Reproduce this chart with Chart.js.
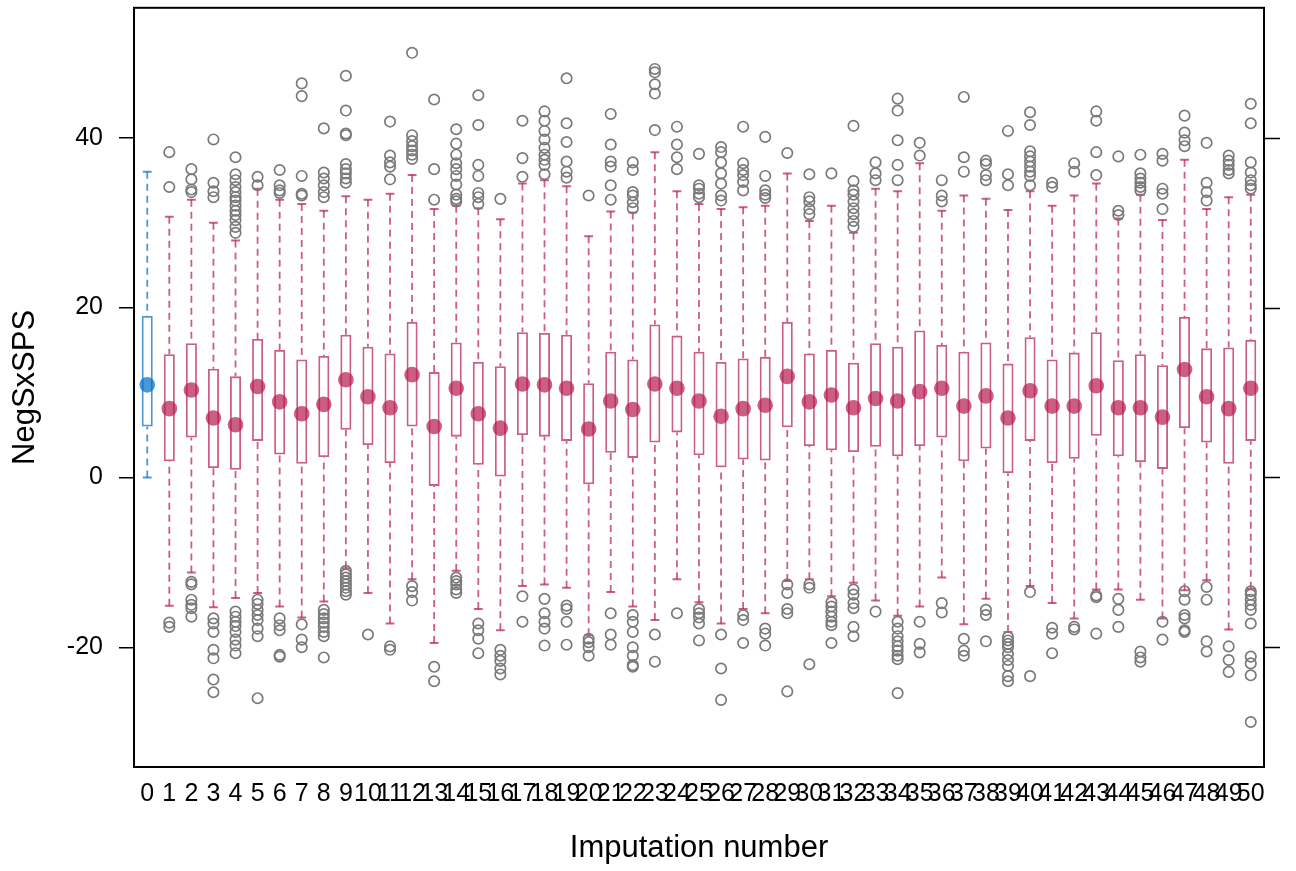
<!DOCTYPE html>
<html>
<head>
<meta charset="utf-8">
<script src="https://cdn.jsdelivr.net/npm/chart.js@4.4.1/dist/chart.umd.min.js"></script>
<style>
  html, body { margin: 0; padding: 0; background: #fff; }
</style>
</head>
<body>
<canvas id="chart" width="1296" height="871"></canvas>
<script>
// imputation numbers (0 = observed data)
var imputations = [];
for (var n = 0; n <= 50; n++) imputations.push(String(n));

var yTicks = [-20, 0, 20, 40];

// five-number summaries per imputation
var whiskerLow = [0, -15.1, -11.2, -15.3, -14.2, -13.6, -15.2, -16.5, -14.6, -10.7,
  -13.6, -17.2, -12.0, -19.5, -11.0, -15.5, -18.0, -12.8, -12.6, -13.0,
  -18.6, -13.5, -15.2, -16.8, -12.0, -14.7, -17.2, -15.5, -16.0, -12.2,
  -12.0, -14.0, -12.4, -14.5, -16.3, -15.2, -11.8, -17.3, -14.3, -18.2,
  -12.8, -14.8, -16.6, -13.2, -13.2, -14.4, -16.6, -13.3, -12.1, -17.9, -13.1];
var boxLow = [6.0, 1.9, 4.7, 1.1, 0.9, 4.3, 2.7, 1.6, 2.4, 5.6,
  3.8, 1.7, 6.0, -1.0, 4.8, 1.5, 0.1, 5.0, 4.8, 4.3,
  -0.8, 2.9, 2.3, 4.1, 5.3, 2.6, 1.2, 2.1, 2.0, 5.9,
  3.7, 3.2, 3.0, 3.6, 2.5, 3.7, 4.7, 1.9, 3.4, 0.5,
  4.3, 1.7, 2.2, 4.9, 2.5, 1.8, 1.0, 5.8, 4.1, 1.6, 4.3];
var medians = [10.9, 8.1, 10.3, 7.0, 6.2, 10.7, 8.9, 7.5, 8.6, 11.5,
  9.5, 8.2, 12.1, 6.0, 10.5, 7.5, 5.8, 11.0, 10.9, 10.5,
  5.7, 9.0, 8.0, 11.0, 10.5, 9.0, 7.2, 8.1, 8.5, 11.9,
  8.9, 9.7, 8.2, 9.3, 9.0, 10.1, 10.5, 8.4, 9.6, 7.0,
  10.2, 8.4, 8.4, 10.8, 8.2, 8.2, 7.1, 12.7, 9.5, 8.1, 10.5];
var boxHigh = [19.0, 14.5, 15.8, 12.8, 11.9, 16.3, 15.0, 13.9, 14.3, 16.8,
  15.4, 14.6, 18.3, 12.4, 15.9, 13.6, 13.1, 17.1, 17.0, 16.8,
  11.1, 14.8, 13.9, 18.0, 16.7, 14.8, 13.6, 14.0, 14.2, 18.3,
  14.6, 15.0, 13.5, 15.8, 15.4, 17.3, 15.6, 14.8, 15.9, 13.4,
  16.5, 13.9, 14.7, 17.1, 13.8, 14.5, 13.2, 18.9, 15.2, 15.3, 16.2];
var whiskerHigh = [36.0, 30.7, 32.7, 30.0, 27.9, 34.0, 32.7, 32.2, 31.4, 33.1,
  32.7, 33.4, 35.6, 31.6, 32.0, 31.7, 30.4, 34.6, 35.0, 34.3,
  28.4, 31.3, 31.2, 38.3, 33.7, 32.2, 31.6, 31.8, 32.0, 35.8,
  30.2, 32.0, 28.8, 34.0, 33.7, 37.0, 31.4, 33.2, 32.8, 31.5,
  33.7, 32.0, 33.2, 34.6, 30.5, 33.3, 30.3, 37.4, 31.6, 33.0, 33.3];

// values beyond the whiskers
var outliers = [
  [],
  [38.3, 34.2, -17.1, -17.6],
  [36.3, 35.1, 33.9, 33.6, -12.3, -12.6, -14.4, -15.0, -15.4, -16.4],
  [39.8, 34.7, 33.7, 33.0, -16.6, -17.2, -18.2, -20.3, -21.3, -23.8, -25.3],
  [37.7, 35.7, 35.0, 34.2, 33.6, 33.0, 32.6, 32.0, 31.4, 30.9, 30.3, 29.5, 28.8,
    -15.8, -16.4, -17.0, -17.5, -18.2, -19.1, -19.8, -20.7],
  [35.4, 34.4, -14.4, -14.9, -15.6, -16.2, -16.8, -17.8, -18.7, -26.0],
  [36.2, 34.4, 33.8, 33.5, -16.6, -17.4, -18.0, -20.9, -21.1],
  [46.4, 44.9, 35.5, 33.4, 33.2, -17.3, -19.1, -20.0],
  [41.1, 35.9, 35.2, 34.4, 33.6, 33.0, -15.6, -16.1, -16.6, -17.1, -17.6, -18.2, -18.7, -21.2],
  [47.3, 43.2, 40.5, 40.3, 36.9, 36.3, 35.8, 35.2, 34.7,
    -11.0, -11.4, -11.8, -12.2, -12.6, -13.0, -13.4, -13.8],
  [-18.5],
  [41.9, 37.9, 37.1, 36.6, 35.1, -19.9, -20.3],
  [50.0, 40.3, 39.6, 39.0, 38.5, 38.0, 37.5, -12.8, -13.5, -14.5],
  [44.5, 36.3, 32.7, -22.3, -24.0],
  [41.0, 39.3, 38.0, 37.0, 36.3, 35.5, 34.5, 33.3, 32.8, 32.5, -11.8, -12.2, -12.6, -13.2, -13.6],
  [45.0, 41.5, 36.8, 35.5, 33.5, 33.0, 32.2, -17.2, -18.0, -19.0, -20.7],
  [32.8, -20.3, -21.0, -21.6, -22.5, -23.2],
  [42.0, 37.6, 35.4, -14.0, -17.0],
  [43.1, 42.0, 40.8, 39.8, 38.8, 38.0, 37.4, 36.8, 35.7, -14.3, -16.0, -17.0, -17.8, -19.8],
  [47.0, 41.7, 39.5, 37.2, 36.0, 35.3, -15.1, -15.5, -17.0, -19.7],
  [33.2, -19.0, -19.4, -20.0, -21.0],
  [42.8, 39.2, 37.2, 36.6, 34.4, 32.7, -16.0, -18.5, -19.7],
  [37.1, 36.2, 33.6, 33.2, 32.4, 31.7, -16.2, -17.0, -18.2, -20.0, -21.0, -22.1, -22.3],
  [48.1, 47.7, 46.3, 45.2, 40.9, -18.5, -21.7],
  [41.3, 39.2, 37.7, 36.3, -16.0],
  [38.1, 34.4, 34.0, 33.4, 33.0, -15.5, -16.0, -16.5, -17.2, -19.2],
  [38.9, 38.3, 37.1, 35.8, 34.6, 33.2, 32.6, -18.5, -22.5, -26.2],
  [41.3, 37.0, 36.2, 35.6, 34.8, 33.8, -16.2, -16.8, -19.5],
  [40.1, 35.5, 33.8, 33.3, 32.9, -17.8, -18.4, -19.8],
  [38.2, -12.6, -13.6, -15.5, -16.0, -25.2],
  [35.7, 33.0, 32.5, 31.6, 31.0, -12.6, -13.0, -22.0],
  [35.8, -14.7, -15.2, -15.8, -16.4, -17.0, -17.4, -19.5],
  [41.4, 34.9, 33.8, 33.3, 32.5, 31.7, 31.0, 30.2, 29.5, -13.2, -13.8, -14.8, -15.4, -17.6, -18.7],
  [37.1, 35.8, 35.0, -15.8],
  [44.6, 43.2, 39.7, 36.8, 35.0, -17.0, -17.8, -18.7, -19.3, -19.9, -20.4, -21.0, -21.4, -25.4],
  [39.4, 37.9, -17.0, -19.6, -20.6],
  [35.0, 33.2, 32.5, -14.8, -15.9],
  [44.8, 37.7, 36.0, -19.0, -20.4, -21.0],
  [37.3, 36.9, 35.6, 35.0, -15.6, -16.2, -19.3],
  [40.8, 35.7, 34.4, -18.8, -19.2, -19.6, -20.0, -20.8, -21.5, -22.2, -23.4, -24.0],
  [43.0, 41.5, 38.4, 37.8, 37.2, 36.6, 36.0, 35.5, 34.4, -13.5, -23.4],
  [34.7, 34.2, -17.7, -18.4, -20.7],
  [37.0, 36.0, -17.6, -17.9],
  [43.1, 42.0, 38.3, 35.6, -13.9, -14.1, -18.4],
  [37.8, 31.4, 30.9, -14.3, -15.6, -17.6],
  [38.0, 35.8, 35.2, 34.7, 34.2, 33.8, -20.5, -21.2, -21.7],
  [38.1, 37.3, 34.0, 33.4, 31.6, -17.0, -19.1],
  [42.6, 40.6, 39.7, 39.0, -13.4, -14.4, -16.2, -16.6, -18.0, -18.2],
  [39.4, 34.7, 33.6, 32.6, -12.9, -14.4, -19.3, -20.5],
  [37.9, 37.3, 36.8, 36.2, 35.8, -19.9, -21.5, -22.9],
  [44.0, 41.7, 37.1, 35.9, 35.0, 34.4, 34.0, -13.4, -13.8, -14.4, -15.0, -15.6, -17.2,
    -21.1, -21.9, -23.3, -28.8]
];

var OBSERVED = 'rgba(0, 108, 194, 0.7)';
var IMPUTED = 'rgba(182, 26, 81, 0.7)';
var OUTLIER = '#7a7a7a';

function groupColor(i) {
  return i === 0 ? OBSERVED : IMPUTED;
}

// dashed whiskers with end caps, drawn under the boxes
var whiskers = {
  id: 'whiskers',
  beforeDatasetsDraw: function(chart) {
    var ctx = chart.ctx, x = chart.scales.x, y = chart.scales.y;
    ctx.save();
    imputations.forEach(function(lab, i) {
      var px = x.getPixelForValue(i);
      var cap = x.getPixelForValue(i + 0.2) - px;
      var hi = y.getPixelForValue(whiskerHigh[i]);
      var lo = y.getPixelForValue(whiskerLow[i]);
      ctx.strokeStyle = groupColor(i);
      ctx.lineWidth = 1.8;
      ctx.setLineDash([7, 5]);
      ctx.beginPath();
      ctx.moveTo(px, hi);
      ctx.lineTo(px, y.getPixelForValue(boxHigh[i]));
      ctx.moveTo(px, lo);
      ctx.lineTo(px, y.getPixelForValue(boxLow[i]));
      ctx.stroke();
      ctx.setLineDash([]);
      ctx.lineWidth = 2;
      ctx.beginPath();
      ctx.moveTo(px - cap, hi);
      ctx.lineTo(px + cap, hi);
      ctx.moveTo(px - cap, lo);
      ctx.lineTo(px + cap, lo);
      ctx.stroke();
    });
    ctx.restore();
  }
};

// closes the panel box and repeats the y ticks on the right side
var frame = {
  id: 'frame',
  afterDraw: function(chart) {
    var ctx = chart.ctx, a = chart.chartArea, y = chart.scales.y;
    ctx.save();
    ctx.strokeStyle = '#000';
    ctx.lineWidth = 2;
    ctx.strokeRect(a.left, a.top, a.right - a.left, a.bottom - a.top);
    ctx.lineWidth = 1.5;
    ctx.beginPath();
    y.ticks.forEach(function(t) {
      var py = Math.round(y.getPixelForValue(t.value)) + 0.5;
      ctx.moveTo(a.right, py);
      ctx.lineTo(a.right + 16, py);
    });
    ctx.stroke();
    ctx.restore();
  }
};

Chart.defaults.font.family = "'Liberation Sans', Arial, sans-serif";
Chart.defaults.color = '#000';

new Chart(document.getElementById('chart'), {
  type: 'bar',
  data: {
    datasets: [
      {
        type: 'line',
        label: 'median',
        data: medians.map(function(m, i) { return {x: i, y: m}; }),
        showLine: false,
        pointRadius: 7.8,
        pointHoverRadius: 7.8,
        pointBorderWidth: 0,
        pointBackgroundColor: medians.map(function(m, i) { return groupColor(i); })
      },
      {
        type: 'line',
        label: 'outliers',
        data: outliers.reduce(function(acc, list, i) {
          return acc.concat(list.map(function(v) { return {x: i, y: v}; }));
        }, []),
        showLine: false,
        pointRadius: 5.2,
        pointHoverRadius: 5.2,
        pointBorderWidth: 1.7,
        pointBorderColor: OUTLIER,
        pointBackgroundColor: 'rgba(0,0,0,0)'
      },
      {
        type: 'bar',
        label: 'box',
        data: boxLow.map(function(lo, i) { return {x: i, y: [lo, boxHigh[i]]}; }),
        backgroundColor: 'rgba(0,0,0,0)',
        borderColor: boxLow.map(function(lo, i) { return groupColor(i); }),
        borderWidth: 1.8,
        borderSkipped: false,
        barPercentage: 0.5,
        categoryPercentage: 1
      }
    ]
  },
  options: {
    responsive: false,
    animation: false,
    layout: { padding: { top: 7.5, right: 32, bottom: 0, left: 0 } },
    plugins: {
      legend: { display: false },
      tooltip: { enabled: false }
    },
    scales: {
      x: {
        type: 'linear',
        offset: false,
        min: -0.6,
        max: 50.6,
        afterBuildTicks: function(scale) {
          scale.ticks = imputations.map(function(l, i) { return {value: i}; });
        },
        afterFit: function(scale) {
          scale.height = 104;
          scale.paddingLeft = 0;
          scale.paddingRight = 0;
        },
        grid: { display: false, drawTicks: false },
        border: { display: false },
        ticks: {
          autoSkip: false,
          maxRotation: 0,
          minRotation: 0,
          padding: 12,
          font: { size: 25 },
          callback: function(v, idx) { return imputations[idx]; }
        },
        title: {
          display: true,
          text: 'Imputation number',
          font: { size: 31 },
          padding: { top: 0, bottom: 4 }
        }
      },
      y: {
        min: -34.1,
        max: 55.3,
        afterBuildTicks: function(scale) {
          scale.ticks = yTicks.map(function(v) { return {value: v}; });
        },
        afterFit: function(scale) {
          scale.width = 134;
          scale.paddingTop = 0;
          scale.paddingBottom = 0;
        },
        grid: {
          display: true,
          drawOnChartArea: false,
          drawTicks: true,
          tickLength: 15,
          color: '#000',
          lineWidth: 1.5
        },
        border: { display: false },
        ticks: {
          padding: 16,
          font: { size: 25 },
          callback: function(v) { return String(v); }
        },
        title: {
          display: true,
          text: 'NegSxSPS',
          font: { size: 31 },
          padding: { top: 7, bottom: 0 }
        }
      }
    }
  },
  plugins: [whiskers, frame]
});
</script>
</body>
</html>
